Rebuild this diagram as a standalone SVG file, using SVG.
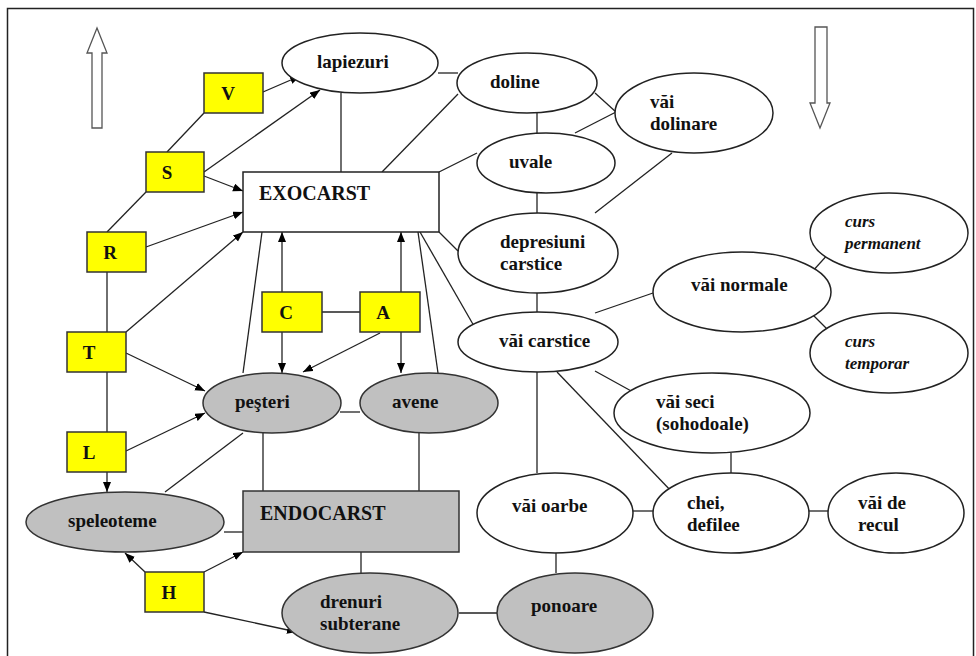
<svg xmlns="http://www.w3.org/2000/svg" width="976" height="656" viewBox="0 0 976 656">
<defs>
<marker id="ah" markerUnits="userSpaceOnUse" markerWidth="11" markerHeight="9" refX="10" refY="4" orient="auto">
<path d="M0,0 L10,4 L0,8 z" fill="#000"/>
</marker>
<style>
.t{font-family:"Liberation Serif","Times New Roman",serif;font-weight:bold;font-size:19px;fill:#111}
.big{font-size:20px}
.it{font-style:italic;font-size:17px}
.e{fill:#fff;stroke:#222;stroke-width:1.5}
.g{fill:#c0c0c0;stroke:#333;stroke-width:1.5}
.y{fill:#ffff00;stroke:#333;stroke-width:1.5}
.c line{stroke:#222;stroke-width:1.3}
.c .a{marker-end:url(#ah)}
</style>
</defs>
<rect x="0" y="0" width="976" height="656" fill="#fff"/>
<rect x="7.5" y="8.5" width="966" height="680" fill="none" stroke="#222" stroke-width="1.5"/>
<polygon points="97,28 107,53 102,53 102,128 92,128 92,53 87,53" fill="#fff" stroke="#555" stroke-width="1.3"/>
<polygon points="815,27 827,27 827,103 830,103 820,128 810,103 815,103" fill="#fff" stroke="#555" stroke-width="1.3"/>

<g class="c" id="connectors">
<line x1="438" y1="73" x2="458" y2="73"/>
<line x1="341" y1="93" x2="341" y2="172"/>
<line x1="382" y1="172" x2="458" y2="94"/>
<line x1="439" y1="172" x2="477" y2="153"/>
<line x1="537" y1="113" x2="537" y2="133"/>
<line x1="537" y1="193" x2="537" y2="213"/>
<line x1="537" y1="293" x2="537" y2="312"/>
<line x1="595" y1="93" x2="616" y2="112"/>
<line x1="575" y1="133" x2="616" y2="112"/>
<line x1="672" y1="153" x2="595" y2="213"/>
<line x1="439" y1="232" x2="458" y2="251"/>
<line x1="420" y1="232" x2="478" y2="333"/>
<line x1="418" y1="232" x2="438" y2="373"/>
<line x1="262" y1="232" x2="243" y2="373"/>
<line x1="595" y1="313" x2="653" y2="293"/>
<line x1="811" y1="273" x2="830" y2="252"/>
<line x1="813" y1="315" x2="830" y2="332"/>
<line x1="595" y1="371" x2="633" y2="392"/>
<line x1="557" y1="372" x2="673" y2="493"/>
<line x1="537" y1="372" x2="537" y2="473"/>
<line x1="731" y1="453" x2="731" y2="473"/>
<line x1="633" y1="511" x2="653" y2="511"/>
<line x1="809" y1="511" x2="828" y2="511"/>
<line x1="556" y1="553" x2="556" y2="573"/>
<line x1="459" y1="613" x2="497" y2="613"/>
<line x1="361" y1="552" x2="361" y2="573"/>
<line x1="263" y1="433" x2="263" y2="491"/>
<line x1="419" y1="433" x2="419" y2="491"/>
<line x1="340" y1="412" x2="360" y2="412"/>
<line x1="165" y1="492" x2="243" y2="433"/>
<line x1="224" y1="532" x2="243" y2="532"/>
<line x1="322" y1="312" x2="360" y2="312"/>
<line x1="167" y1="152" x2="204" y2="113"/>
<line x1="107" y1="232" x2="146" y2="192"/>
<line x1="107" y1="272" x2="107" y2="332"/>
<line x1="107" y1="372" x2="107" y2="432"/>
<line class="a" x1="263" y1="92" x2="300" y2="76"/>
<line class="a" x1="204" y1="172" x2="320" y2="90"/>
<line class="a" x1="204" y1="176" x2="243" y2="191"/>
<line class="a" x1="146" y1="247" x2="243" y2="212"/>
<line class="a" x1="126" y1="332" x2="243" y2="232"/>
<line class="a" x1="126" y1="353" x2="205" y2="391"/>
<line class="a" x1="126" y1="451" x2="205" y2="413"/>
<line class="a" x1="107" y1="472" x2="107" y2="492"/>
<line class="a" x1="145" y1="572" x2="125" y2="553"/>
<line class="a" x1="204" y1="572" x2="243" y2="552"/>
<line class="a" x1="204" y1="612" x2="297" y2="632"/>
<line class="a" x1="282" y1="292" x2="282" y2="232"/>
<line class="a" x1="282" y1="332" x2="282" y2="373"/>
<line class="a" x1="401" y1="292" x2="401" y2="232"/>
<line class="a" x1="401" y1="332" x2="401" y2="373"/>
<line class="a" x1="380" y1="333" x2="303" y2="372"/>
</g>

<g id="exocarst"><rect x="243" y="172" width="196" height="60" class="e"/><text x="259" y="200" class="t big">EXOCARST</text></g>
<g id="endocarst"><rect x="243" y="491" width="216" height="61" class="g"/><text x="260" y="520" class="t big">ENDOCARST</text></g>

<g id="V"><rect x="204" y="73" width="59" height="40" class="y"/><text x="228" y="100" text-anchor="middle" class="t">V</text></g>
<g id="S"><rect x="146" y="152" width="58" height="40" class="y"/><text x="167" y="179" text-anchor="middle" class="t">S</text></g>
<g id="R"><rect x="87" y="232" width="59" height="40" class="y"/><text x="110" y="259" text-anchor="middle" class="t">R</text></g>
<g id="T"><rect x="67" y="332" width="59" height="40" class="y"/><text x="89" y="359" text-anchor="middle" class="t">T</text></g>
<g id="L"><rect x="67" y="432" width="59" height="40" class="y"/><text x="89" y="459" text-anchor="middle" class="t">L</text></g>
<g id="H"><rect x="145" y="572" width="59" height="40" class="y"/><text x="169" y="599" text-anchor="middle" class="t">H</text></g>
<g id="C"><rect x="262" y="292" width="60" height="40" class="y"/><text x="286" y="319" text-anchor="middle" class="t">C</text></g>
<g id="A"><rect x="360" y="292" width="60" height="40" class="y"/><text x="383" y="319" text-anchor="middle" class="t">A</text></g>

<g id="lapiezuri"><ellipse cx="360" cy="63" rx="78" ry="30" class="e"/><text x="317" y="68" class="t">lapiezuri</text></g>
<g id="doline"><ellipse cx="527" cy="83" rx="70" ry="30" class="e"/><text x="490" y="88" class="t">doline</text></g>
<g id="uvale"><ellipse cx="546" cy="163" rx="69" ry="30" class="e"/><text x="509" y="168" class="t">uvale</text></g>
<g id="vai-dolinare"><ellipse cx="694" cy="113" rx="79" ry="40" class="e"/><text x="650" y="108" class="t">văi</text><text x="650" y="130" class="t">dolinare</text></g>
<g id="depresiuni"><ellipse cx="538" cy="253" rx="80" ry="40" class="e"/><text x="500" y="248" class="t">depresiuni</text><text x="500" y="270" class="t">carstice</text></g>
<g id="vai-carstice"><ellipse cx="538" cy="342" rx="80" ry="30" class="e"/><text x="499" y="347" class="t">văi carstice</text></g>
<g id="vai-normale"><ellipse cx="742" cy="292" rx="89" ry="40" class="e"/><text x="691" y="291" class="t">văi normale</text></g>
<g id="curs-permanent"><ellipse cx="889" cy="233" rx="79" ry="40" class="e"/><text x="845" y="227" class="t it">curs</text><text x="845" y="249" class="t it">permanent</text></g>
<g id="curs-temporar"><ellipse cx="889" cy="353" rx="79" ry="40" class="e"/><text x="845" y="347" class="t it">curs</text><text x="845" y="369" class="t it">temporar</text></g>
<g id="vai-seci"><ellipse cx="712" cy="413" rx="98" ry="40" class="e"/><text x="656" y="408" class="t">văi seci</text><text x="656" y="430" class="t">(sohodoale)</text></g>
<g id="vai-oarbe"><ellipse cx="555" cy="513" rx="78" ry="40" class="e"/><text x="512" y="512" class="t">văi oarbe</text></g>
<g id="chei"><ellipse cx="731" cy="513" rx="78" ry="40" class="e"/><text x="687" y="509" class="t">chei,</text><text x="687" y="531" class="t">defilee</text></g>
<g id="vai-recul"><ellipse cx="896" cy="513" rx="68" ry="40" class="e"/><text x="858" y="509" class="t">văi de</text><text x="858" y="531" class="t">recul</text></g>
<g id="pesteri"><ellipse cx="272" cy="403" rx="69" ry="30" class="g"/><text x="235" y="408" class="t">peşteri</text></g>
<g id="avene"><ellipse cx="429" cy="403" rx="69" ry="30" class="g"/><text x="392" y="408" class="t">avene</text></g>
<g id="speleoteme"><ellipse cx="125" cy="522" rx="99" ry="30" class="g"/><text x="68" y="527" class="t">speleoteme</text></g>
<g id="drenuri"><ellipse cx="370" cy="613" rx="88" ry="40" class="g"/><text x="320" y="608" class="t">drenuri</text><text x="320" y="630" class="t">subterane</text></g>
<g id="ponoare"><ellipse cx="575" cy="613" rx="78" ry="40" class="g"/><text x="531" y="612" class="t">ponoare</text></g>
</svg>
